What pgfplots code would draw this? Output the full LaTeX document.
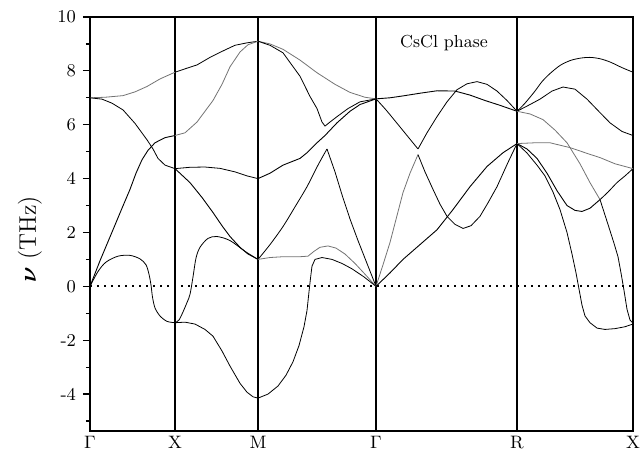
\documentclass[border=0pt]{standalone}
\usepackage{pgfplots}
\pgfplotsset{compat=1.18}
\usepackage{bm}
\begin{document}
\begin{tikzpicture}
\begin{axis}[scale only axis, width=271.5pt, height=207pt,
 xmin=0, xmax=543, ymin=-5.37, ymax=10, clip=false,
 axis line style={line width=0.8pt},
 xtick={0,85,168,286,427,543}, xticklabels={$\Gamma$,X,M,$\Gamma$,R,X},
 minor xtick={41.6,83.2,124.8,166.4,208,249.6,291.2,332.8,374.4,416,457.6,499.2,540.8},
 x tick label style={font=\small, yshift=2pt, inner sep=1pt}, xmajorgrids=true,
 major x grid style={black, line width=0.6pt},
 xtick style={draw=none}, minor x tick style={black, line width=0.5pt},
 ytick={-4,-2,0,2,4,6,8,10}, yticklabels={-4,-2,0,2,4,6,8,10},
 minor ytick={-5,-3,-1,1,3,5,7,9},
 y tick label style={font=\small}, ytick pos=left,
 ytick style={black, line width=0.6pt},
 tick align=outside, major tick length=3.5pt, minor tick length=2pt,
 cycle list={{black!55, no markers, line width=0.45pt, smooth, tension=0.7}}]
% Gamma - X
\addplot coordinates {(0,7.0)(15,7.02)(33,7.08)(45,7.22)(57,7.42)(70,7.7)(85,7.95)};
\addplot coordinates {(0,7.0)(12,6.95)(22,6.8)(33,6.55)(45,6.05)(57,5.44)(63,5.1)(68,4.75)(75,4.5)(85,4.37)};
\addplot coordinates {(0,0)(10,0.95)(23,2.1)(32,2.9)(40,3.6)(46,4.2)(52,4.7)(58,5.05)(65,5.33)(75,5.52)(85,5.6)};
\addplot coordinates {(0,0)(8,0.55)(16,0.9)(28,1.12)(40,1.15)(50,1.02)(56,0.8)(59,0.45)(61,0.05)(62.5,-0.4)(65,-0.8)(70,-1.1)(77,-1.3)(85,-1.35)};
% X - M
\addplot coordinates {(85,7.95)(97,8.1)(107,8.22)(120,8.5)(133,8.74)(145,8.95)(157,9.04)(168,9.1)};
\addplot coordinates {(85,5.6)(95,5.7)(107,6.1)(115,6.5)(123,6.9)(132,7.5)(140,8.15)(150,8.7)(158,8.97)(168,9.1)};
\addplot coordinates {(85,4.37)(100,4.42)(115,4.43)(130,4.38)(145,4.25)(157,4.1)(168,4.0)};
\addplot coordinates {(85,4.37)(100,3.85)(112,3.3)(123,2.74)(132,2.25)(140,1.85)(150,1.45)(158,1.2)(168,1.0)};
\addplot coordinates {(85,-1.35)(89,-1.25)(93,-0.95)(97,-0.6)(100,-0.3)(103,0.35)(106,1.05)(110,1.45)(118,1.78)(127,1.85)(140,1.7)(155,1.3)(168,1.0)};
\addplot coordinates {(85,-1.35)(95,-1.33)(105,-1.4)(115,-1.6)(123,-1.85)(132,-2.4)(140,-2.96)(150,-3.6)(157,-3.93)(163,-4.1)(168,-4.15)};
% M - Gamma
\addplot coordinates {(168,9.1)(180,9.0)(193,8.8)(210,8.4)(227,7.93)(245,7.5)(260,7.2)(275,7.02)(286,6.96)};
\addplot coordinates {(168,9.1)(180,8.95)(193,8.67)(210,7.8)(220,7.05)(227,6.6)(232,6.1)(235,5.95)(240,6.1)(247,6.3)(258,6.6)(270,6.85)(286,6.96)};
\addplot coordinates {(168,4.0)(180,4.2)(193,4.5)(210,4.75)(217,4.96)(227,5.33)(235,5.6)(247,6.07)(260,6.5)(270,6.75)(286,6.96)};
\addplot coordinates {(168,1.0)(180,1.55)(193,2.22)(205,2.95)(217,3.7)(228,4.5)(237,5.1)};
\addplot coordinates {(237,5.1)(245,4.25)(252,3.4)(260,2.5)(268,1.7)(277,0.85)(286,0)};
\addplot coordinates {(168,1.0)(180,1.07)(193,1.1)(210,1.1)(218,1.12)(224,1.3)(230,1.45)(238,1.5)(246,1.42)(255,1.2)(265,0.85)(275,0.45)(286,0)};
\addplot coordinates {(168,-4.15)(178,-4.0)(188,-3.7)(196,-3.3)(203,-2.8)(209,-2.2)(214,-1.5)(217,-0.9)(219,-0.2)(220.5,0.3)(222,0.75)(225,1.0)(232,1.07)(242,1.0)(252,0.85)(262,0.65)(274,0.35)(286,0)};
% Gamma - R
\addplot coordinates {(286,6.96)(300,7.0)(313,7.07)(330,7.17)(347,7.26)(365,7.25)(380,7.1)(395,6.9)(410,6.72)(427,6.5)};
\addplot coordinates {(286,6.96)(296,6.55)(306,6.1)(317,5.6)(328,5.1)};
\addplot coordinates {(328,5.1)(337,5.7)(347,6.3)(357,6.85)(367,7.3)(377,7.52)(387,7.6)(397,7.5)(407,7.25)(417,6.9)(427,6.5)};
\addplot coordinates {(286,0)(293,0.8)(300,1.63)(313,3.48)(320,4.2)(328,4.89)};
\addplot coordinates {(328,4.89)(335,4.25)(343,3.6)(350,3.05)(357,2.6)(365,2.3)(373,2.15)(381,2.25)(390,2.6)(398,3.1)(407,3.7)(418,4.6)(427,5.3)};
\addplot coordinates {(286,0)(300,0.5)(313,1.0)(330,1.55)(347,2.1)(363,2.85)(380,3.7)(397,4.45)(413,4.96)(427,5.3)};
% R - X
\addplot coordinates {(427,6.5)(435,6.8)(445,7.25)(452,7.6)(460,7.9)(470,8.2)(480,8.38)(490,8.47)(500,8.5)(510,8.45)(520,8.33)(532,8.12)(543,7.95)};
\addplot coordinates {(427,6.5)(440,6.75)(450,6.95)(462,7.25)(473,7.4)(485,7.32)(497,6.95)(510,6.45)(520,6.07)(532,5.75)(543,5.6)};
\addplot coordinates {(427,6.5)(440,6.4)(453,6.19)(465,5.8)(477,5.33)(490,4.55)(500,3.85)(510,3.22)};
\addplot coordinates {(510,3.22)(518,2.3)(524,1.6)(528,1.1)(531,0.5)(534,-0.15)(537,-0.85)(540,-1.25)(543,-1.37)};
\addplot coordinates {(427,5.3)(437,5.1)(447,4.75)(457,4.2)(467,3.55)(477,3.0)(485,2.82)(492,2.78)(500,2.9)(510,3.22)};
\addplot coordinates {(510,3.22)(518,3.5)(527,3.85)(535,4.1)(543,4.37)};
\addplot coordinates {(427,5.3)(437,4.95)(447,4.5)(455,4.1)(463,3.5)(470,2.85)(477,2.0)(482,1.2)(486,0.5)(489,-0.1)(492,-0.7)(495,-1.1)(500,-1.35)(507,-1.55)(515,-1.6)(525,-1.57)(535,-1.5)(543,-1.4)};
\addplot coordinates {(427,5.3)(445,5.33)(460,5.33)(480,5.15)(500,4.9)(510,4.78)(525,4.55)(543,4.37)};
% zero line
\addplot[black, line width=0.9pt, dash pattern=on 1pt off 2.5pt, sharp plot] coordinates {(0,0)(543,0)};
\node[font=\fontsize{8.7}{10}\selectfont] at (axis cs:354,9.04) {CsCl phase};
\node[rotate=90, font=\large] at ([xshift=-30pt]axis cs:0,1.75) {{\boldmath$\nu$} (THz)};
\end{axis}
\pgfresetboundingbox
\path[use as bounding box] ([xshift=-45pt,yshift=-11pt]current axis.south west) rectangle ([xshift=5pt,yshift=8.5pt]current axis.north east);
\end{tikzpicture}
\end{document}
